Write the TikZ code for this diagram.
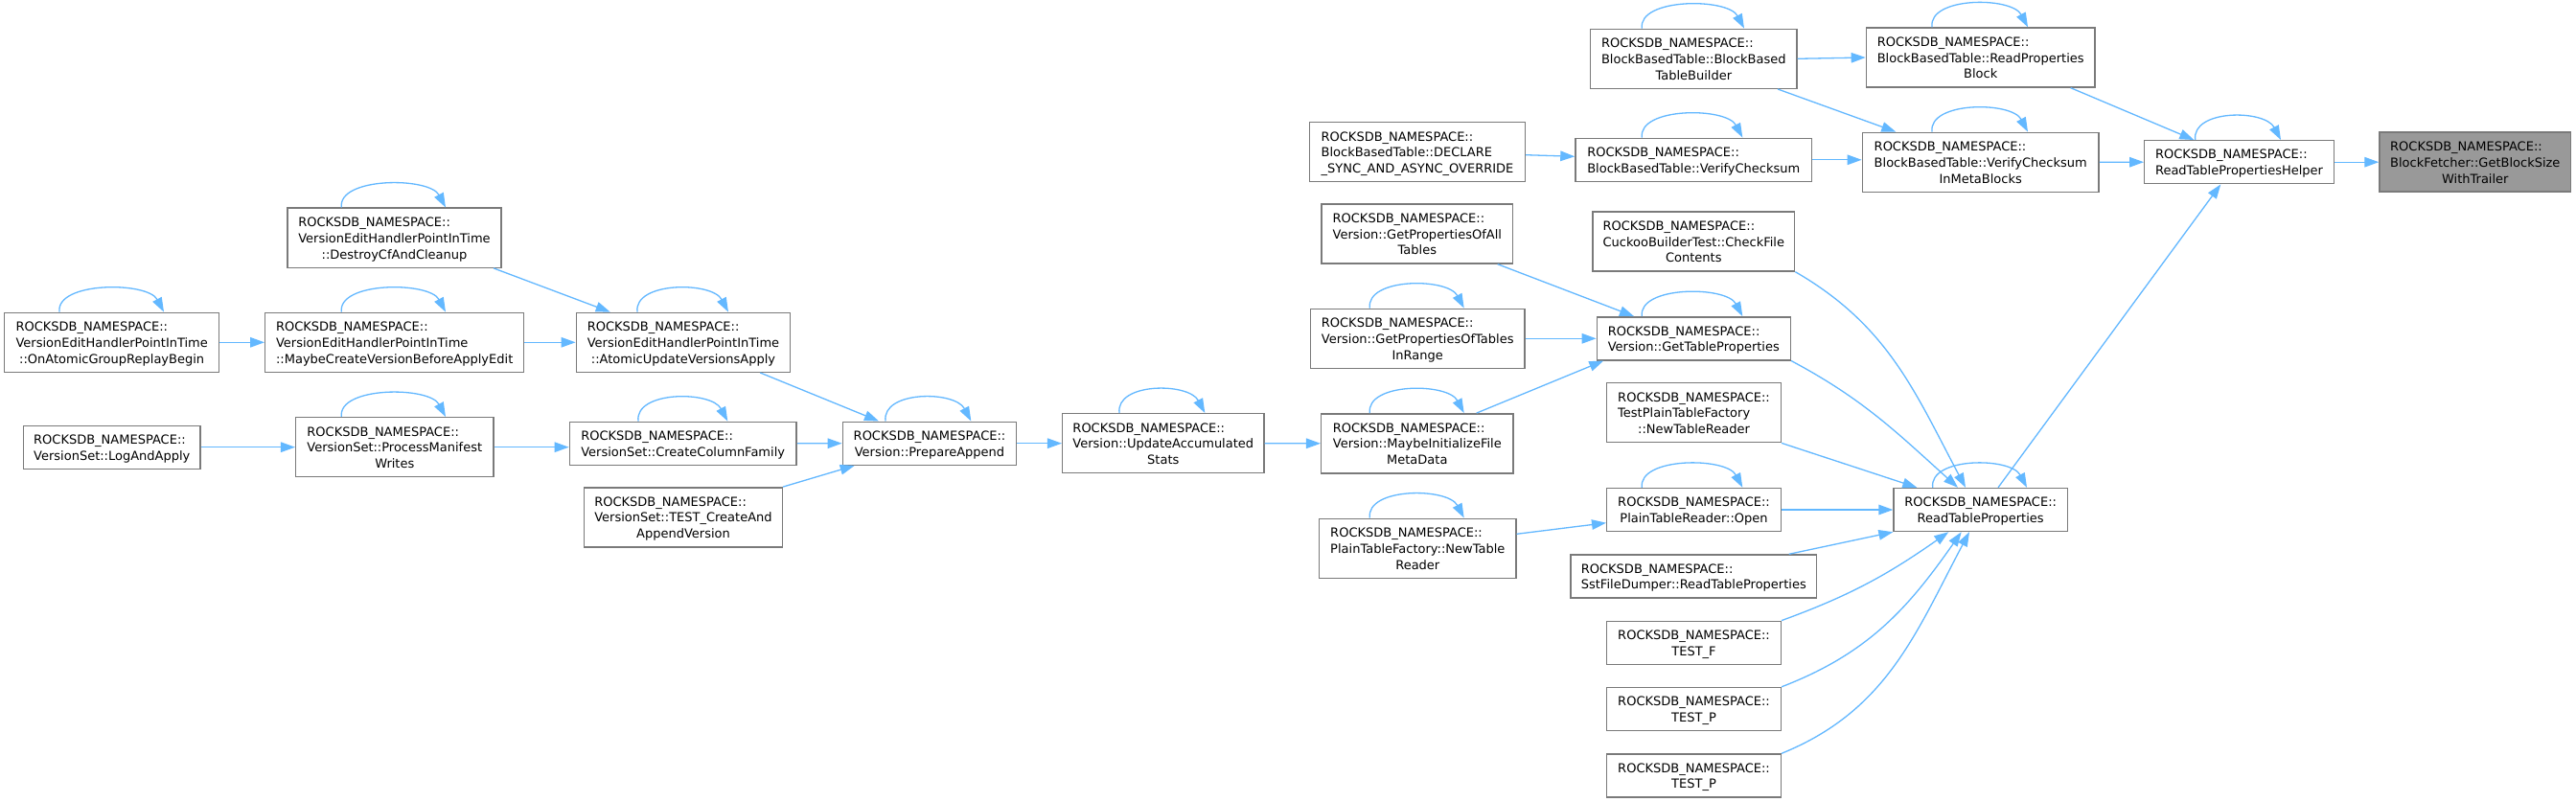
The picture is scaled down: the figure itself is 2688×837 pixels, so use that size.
\documentclass[tikz,border=0pt]{standalone}
\usepackage{fontspec}
\setmainfont{DejaVu Sans}
\usetikzlibrary{positioning,arrows.meta}
\definecolor{edgeblue}{HTML}{63B8FF}
\definecolor{boxgray}{HTML}{7A7A7A}
\definecolor{rootfill}{HTML}{999999}

% two and three line labels: last line centred, the others flush left
\newcommand{\lblii}[1]{\raisebox{-1.8pt}[\height][\depth]{\begin{tabular}{@{}l@{}}ROCKSDB\_NAMESPACE::\\\multicolumn{1}{@{}c@{}}{#1}\end{tabular}}}
\newcommand{\lbliii}[2]{\raisebox{-1.8pt}[\height][\depth]{\begin{tabular}{@{}l@{}}ROCKSDB\_NAMESPACE::\\#1\\\multicolumn{1}{@{}c@{}}{#2}\end{tabular}}}

\begin{document}
\begin{tikzpicture}[x=1pt, y=-1pt,
  fn/.style={draw=boxgray, line width=1.4pt, fill=white, inner sep=0pt,
             minimum height=45pt, font=\fontsize{13}{16.7}\selectfont},
  tall/.style={minimum height=62pt},
  root/.style={fill=rootfill},
  edge/.style={draw=edgeblue, line width=1.3pt,
               -{Triangle[length=15pt,width=10.5pt]}},
  ]
  \path[use as bounding box, fill=white] (0,0) rectangle (2688,837);

  % left part: version edit handlers
  \node[fn, tall, minimum width=224pt] (onatomic) at (116.7,357.3) {\lbliii{VersionEditHandlerPointInTime}{::OnAtomicGroupReplayBegin}};
  \node[fn, minimum width=184.3pt] (logapply) at (116.8,466.7) {\lblii{VersionSet::LogAndApply}};
  \node[fn, tall, minimum width=223pt] (destroy) at (411.5,248.2) {\lbliii{VersionEditHandlerPointInTime}{::DestroyCfAndCleanup}};
  \node[fn, tall, minimum width=270pt] (maybecreate) at (411.7,357.3) {\lbliii{VersionEditHandlerPointInTime}{::MaybeCreateVersionBeforeApplyEdit}};
  \node[fn, tall, minimum width=206.3pt] (procmanifest) at (411.8,466.7) {\lbliii{VersionSet::ProcessManifest}{Writes}};
  \node[fn, tall, minimum width=223.4pt] (atomicupdate) at (713,357.3) {\lbliii{VersionEditHandlerPointInTime}{::AtomicUpdateVersionsApply}};
  \node[fn, minimum width=236.7pt] (createcf) at (712.7,462.8) {\lblii{VersionSet::CreateColumnFamily}};
  \node[fn, tall, minimum width=206.6pt] (testcreate) at (713,539.8) {\lbliii{VersionSet::TEST\_CreateAnd}{AppendVersion}};
  \node[fn, minimum width=181.4pt] (prepare) at (970,462.7) {\lblii{Version::PrepareAppend}};
  \node[fn, tall, minimum width=210.3pt] (updacc) at (1213.8,462.7) {\lbliii{Version::UpdateAccumulated}{Stats}};

  % middle columns
  \node[fn, tall, minimum width=224.6pt] (declare) at (1479,158.7) {\lbliii{BlockBasedTable::DECLARE}{\_SYNC\_AND\_ASYNC\_OVERRIDE}};
  \node[fn, tall, minimum width=199.7pt] (getallprops) at (1478.8,244) {\lbliii{Version::GetPropertiesOfAll}{Tables}};
  \node[fn, tall, minimum width=223.7pt] (getinrange) at (1479.2,353.3) {\lbliii{Version::GetPropertiesOfTables}{InRange}};
  \node[fn, tall, minimum width=200.3pt] (maybeinit) at (1478.8,462.8) {\lbliii{Version::MaybeInitializeFile}{MetaData}};
  \node[fn, tall, minimum width=205.3pt] (ptfnewreader) at (1479.3,572.2) {\lbliii{PlainTableFactory::NewTable}{Reader}};

  \node[fn, tall, minimum width=215.3pt] (bbtbuilder) at (1767.3,61.3) {\lbliii{BlockBasedTable::BlockBased}{TableBuilder}};
  \node[fn, minimum width=246.7pt] (verifycs) at (1767.3,166.8) {\lblii{BlockBasedTable::VerifyChecksum}};
  \node[fn, tall, minimum width=210.7pt] (cuckoo) at (1767.3,252) {\lbliii{CuckooBuilderTest::CheckFile}{Contents}};
  \node[fn, minimum width=202pt] (gettblprops) at (1767.3,353.3) {\lblii{Version::GetTableProperties}};
  \node[fn, tall, minimum width=181.6pt] (testptf) at (1767.5,430.7) {\lbliii{TestPlainTableFactory}{::NewTableReader}};
  \node[fn, minimum width=181.6pt] (ptropen) at (1767.5,532) {\lblii{PlainTableReader::Open}};
  \node[fn, minimum width=256.7pt] (sstdump) at (1767.3,601.5) {\lblii{SstFileDumper::ReadTableProperties}};
  \node[fn, minimum width=181.6pt] (testf) at (1767.5,670.8) {\lblii{TEST\_F}};
  \node[fn, minimum width=181.6pt] (testpa) at (1767.5,740) {\lblii{TEST\_P}};
  \node[fn, minimum width=181.6pt] (testpb) at (1767.5,809.5) {\lblii{TEST\_P}};

  % right part
  \node[fn, tall, minimum width=238.7pt] (readpropblk) at (2066.7,60) {\lbliii{BlockBasedTable::ReadProperties}{Block}};
  \node[fn, tall, minimum width=246.7pt] (verifymeta) at (2066.7,169.3) {\lbliii{BlockBasedTable::VerifyChecksum}{InMetaBlocks}};
  \node[fn, minimum width=181.3pt] (rtp) at (2066.7,532) {\lblii{ReadTableProperties}};
  \node[fn, minimum width=197.6pt] (rtphelper) at (2336.5,169.2) {\lblii{ReadTablePropertiesHelper}};
  \node[fn, tall, root, minimum width=199.7pt] (getblock) at (2582.8,169.2) {\lbliii{BlockFetcher::GetBlockSize}{WithTrailer}};

  % calls
  \draw[edge] (onatomic.east) -- (maybecreate.west);
  \draw[edge] ([xshift=103.5pt]destroy.south) -- ([xshift=-76.3pt]atomicupdate.north);
  \draw[edge] (maybecreate.east) -- (atomicupdate.west);
  \draw[edge] (logapply.east) -- (procmanifest.west);
  \draw[edge] (procmanifest.east) -- (procmanifest.east -| createcf.west);
  \draw[edge] ([xshift=80.3pt]atomicupdate.south) -- ([xshift=-53pt]prepare.north);
  \draw[edge] (createcf.east) -- (prepare.west);
  \draw[edge] (testcreate.north east) -- ([xshift=-78.3pt]prepare.south);
  \draw[edge] (prepare.east) -- (updacc.west);
  \draw[edge] (updacc.east) -- (maybeinit.west);
  \draw[edge] ([xshift=61.9pt]maybeinit.north) -- ([xshift=-94pt]gettblprops.south);
  \draw[edge] ([xshift=83.9pt]getallprops.south) -- ([xshift=-62.3pt]gettblprops.north);
  \draw[edge] (getinrange.east) -- (gettblprops.west);
  \draw[edge] ([yshift=-3pt]declare.east) -- ([yshift=3.5pt]verifycs.west);
  \draw[edge] (bbtbuilder.east) -- (readpropblk.west);
  \draw[edge] ([xshift=87.7pt]bbtbuilder.south) -- ([xshift=-88.4pt]verifymeta.north);
  \draw[edge] (verifycs.east) -- (verifycs.east -| verifymeta.west);
  \draw[edge] ([xshift=94pt]readpropblk.south) -- ([xshift=-47.2pt]rtphelper.north);
  \draw[edge] (verifymeta.east) -- (rtphelper.west);
  \draw[edge] (rtphelper.east) -- (getblock.west);
  \draw[edge] ([xshift=18.3pt]rtp.north) -- ([xshift=-19.2pt]rtphelper.south);
  \draw[edge] (cuckoo.south east) to[out=-30, in=118] ([xshift=-15.7pt]rtp.north);
  \draw[edge] (gettblprops.south east) to[out=-28, in=138] ([xshift=-23.7pt]rtp.north);
  \draw[edge] (testptf.south east) -- ([xshift=-66.4pt]rtp.north);
  \draw[edge] (ptropen.east) -- (rtp.west);
  \draw[edge] ([xshift=99.4pt]sstdump.north) -- (rtp.south west);
  \draw[edge] ([yshift=14.9pt]ptfnewreader.east) -- ([yshift=-13.7pt]ptropen.west);
  \draw[edge] (testf.north east) to[out=20, in=-145] ([xshift=-33.4pt]rtp.south);
  \draw[edge] (testpa.north east) to[out=21, in=-125] ([xshift=-20pt]rtp.south);
  \draw[edge] (testpb.north east) to[out=22, in=-118] ([xshift=-11.7pt]rtp.south);

  % recursive calls
  \foreach \n/\a/\b in {destroy/-55.2/53.5, onatomic/-54.7/54.3,
      maybecreate/-55.4/53.3, procmanifest/-55.5/53.2, atomicupdate/-48/47,
      createcf/-46.7/46.6, prepare/-46/43.3, updacc/-45.8/43.5,
      bbtbuilder/-54/52.7, verifycs/-54/51, getinrange/-49.9/48.5,
      gettblprops/-54/51, maybeinit/-49.5/48.9, ptfnewreader/-50/48.4,
      ptropen/-54.2/50.8, readpropblk/-50.7/49.3, verifymeta/-50.7/49.3,
      rtphelper/-45.8/43.5, rtp/-50/48.3}
    \draw[edge] ([xshift=\a pt]\n.north)
      .. controls ([xshift=\a pt-4pt, yshift=32pt]\n.north)
      and ([xshift=\b pt-17pt, yshift=32pt]\n.north)
      .. ([xshift=\b pt]\n.north);
\end{tikzpicture}
\end{document}
